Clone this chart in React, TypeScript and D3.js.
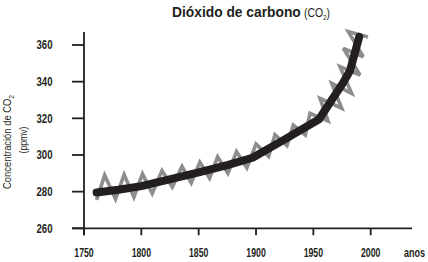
import React, { useRef, useEffect } from "react";
import * as d3 from "d3";

// CO2 trend (black line)
const trendYears = [1761, 1780, 1800, 1820, 1850, 1875, 1897, 1925, 1955, 1965, 1975, 1982, 1990];
const trendValues = [279.5, 281, 283, 286, 290.5, 294.5, 298.5, 308.5, 319.5, 329, 338.5, 346, 364.5];

// seasonal zigzag (grey line): trough / peak vertices
const cycleYears = [
  1761, 1768, 1777.5, 1785, 1793.5, 1801, 1809.5, 1818, 1827, 1835.5, 1843.5, 1851,
  1859.5, 1866.5, 1875.5, 1883, 1892, 1900, 1911, 1916.5, 1927, 1932.5, 1943, 1947.1,
  1962.8, 1955.8, 1974.7, 1966, 1983.4, 1973.2, 1990.7, 1976.1, 1993.5, 1980.5, 1997.6,
];
const cycleValues = [
  275.5, 289, 276, 289.3, 277, 289.7, 279, 291.5, 282.5, 293.7, 284.8, 296,
  287.3, 299, 290, 301.8, 293, 306, 299.3, 311, 305.1, 316.3, 310.9, 322.7,
  318.5, 330.9, 325.5, 339.1, 333.6, 348.2, 343.6, 358.2, 353.6, 367.3, 364.4,
];

const xTicks = [1750, 1800, 1850, 1900, 1950, 2000];
const yTicks = [260, 280, 300, 320, 340, 360];

const W = 428;
const H = 262;
const FONT = "'Liberation Sans', Arial, sans-serif";

export default function App() {
  const svgRef = useRef<SVGSVGElement | null>(null);

  useEffect(() => {
    if (!svgRef.current) return;
    const svg = d3.select(svgRef.current);
    svg.selectAll("*").remove();

    const x = d3.scaleLinear().domain([1750, 2000]).range([84, 370.7]);
    const y = d3.scaleLinear().domain([260, 360]).range([228.3, 45]);

    const ink = "#231f20";

    // condensed-looking text: horizontally squeezed with a scale transform
    const label = (
      tf: string,
      size: number,
      bold = false,
      anchor = "start"
    ) =>
      svg
        .append("text")
        .attr("transform", tf)
        .attr("text-anchor", anchor)
        .style("font-family", FONT)
        .style("font-size", `${size}px`)
        .style("font-weight", bold ? "bold" : "normal")
        .style("fill", ink);

    // grey seasonal zigzag
    const cycle = cycleYears.map((yr, i) => [yr, cycleValues[i]] as [number, number]);
    const zig = d3
      .line<[number, number]>()
      .x((d) => x(d[0]))
      .y((d) => y(d[1]));
    svg
      .append("path")
      .attr("d", zig(cycle) as string)
      .attr("fill", "none")
      .attr("stroke", "#8d8d8d")
      .attr("stroke-width", 3.6)
      .attr("stroke-linejoin", "miter")
      .attr("stroke-miterlimit", 3);

    // black trend
    const trend = trendYears.map((yr, i) => [yr, trendValues[i]] as [number, number]);
    const straight = d3
      .line<[number, number]>()
      .x((d) => x(d[0]))
      .y((d) => y(d[1]));
    svg
      .append("path")
      .attr("d", straight(trend) as string)
      .attr("fill", "none")
      .attr("stroke", ink)
      .attr("stroke-width", 8)
      .attr("stroke-linecap", "round")
      .attr("stroke-linejoin", "round");

    // axes
    const axisG = svg.append("g").attr("stroke", ink).attr("stroke-width", 1.8);
    axisG.append("line").attr("x1", x(1750)).attr("x2", x(1750)).attr("y1", 32).attr("y2", y(260) + 7);
    axisG.append("line").attr("x1", 72).attr("x2", 412).attr("y1", y(260)).attr("y2", y(260));
    yTicks.forEach((t) => {
      axisG.append("line").attr("x1", 72).attr("x2", x(1750)).attr("y1", y(t)).attr("y2", y(t));
    });
    xTicks.forEach((t) => {
      axisG.append("line").attr("x1", x(t)).attr("x2", x(t)).attr("y1", y(260)).attr("y2", y(260) + 7);
    });

    // tick labels
    yTicks.forEach((t) =>
      label(`translate(52.5,${y(t) + 4.3}) scale(0.8,1)`, 12, true, "end").text(t)
    );
    xTicks.forEach((t) =>
      label(`translate(${x(t)},256.5) scale(0.7,1)`, 12.5, true, "middle").text(t)
    );
    label("translate(404,256.5) scale(0.72,1)", 12.5, true).text("anos");

    // title
    label("translate(172,17) scale(0.92,1)", 15, true).text("Dióxido de carbono");
    const co2 = label("translate(304,17) scale(0.8,1)", 13);
    co2.append("tspan").text("(CO");
    co2.append("tspan").style("font-size", "8px").attr("dy", 3).text("2");
    co2.append("tspan").attr("dy", -3).text(")");

    // y label
    const yl = label("translate(11,142) rotate(-90) scale(0.94,1)", 10, false, "middle");
    yl.append("tspan").text("Concentración de CO");
    yl.append("tspan").style("font-size", "7px").attr("dy", 2.5).text("2");

    label("translate(27,140) rotate(-90) scale(0.87,1)", 10, false, "middle").text("(ppmv)");
  }, []);

  return (
    <div style={{ position: "fixed", left: 0, top: 0, background: "#fff" }}>
      <svg ref={svgRef} width={W} height={H} style={{ display: "block" }} />
    </div>
  );
}
